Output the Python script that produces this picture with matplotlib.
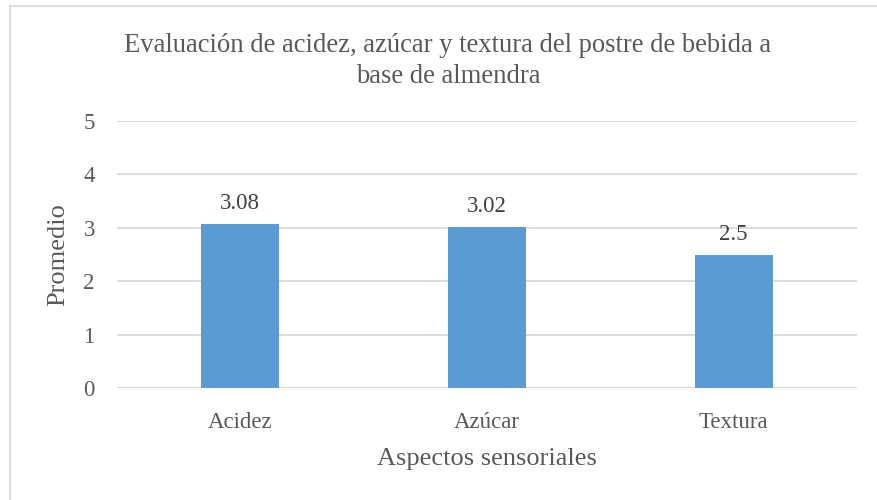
import matplotlib
matplotlib.use('Agg')
from matplotlib import pyplot as plt
from matplotlib.patches import Rectangle

# datos del grafico
aspectos = ['Acidez', 'Azúcar', 'Textura']
promedios = [3.08, 3.02, 2.5]
etiquetas = ['3.08', '3.02', '2.5']

plt.rcParams['font.family'] = ['Liberation Serif', 'DejaVu Serif']
gris = '#595959'

fig = plt.figure(figsize=(8.78, 5), dpi=100)
# borde del area del grafico
fig.patches.append(Rectangle((10 / 878, -0.1), 1.2, 1 - 6 / 500 + 0.1, transform=fig.transFigure,
                             fill=False, edgecolor='#D9D9D9', linewidth=1.2))

ax = fig.add_axes([117 / 878, 1 - 388 / 500, 740 / 878, 267 / 500])
x = range(len(aspectos))
ax.bar(x, promedios, width=0.316, color='#5B9BD5', zorder=3)
for i, v in enumerate(promedios):
    ax.annotate(etiquetas[i], (i, v), xytext=(0, 7), textcoords='offset points',
                ha='center', va='bottom', fontsize=16.5, color='#404040')

ax.set_xlim(-0.5, 2.5)
ax.set_ylim(0, 5)
ax.set_yticks(range(0, 6))
ax.set_xticks(list(x))
ax.set_xticklabels(aspectos)
ax.yaxis.grid(True, color='#D9D9D9', linewidth=1.3, zorder=0)
for s in ['top', 'right', 'left', 'bottom']:
    ax.spines[s].set_visible(False)
ax.tick_params(axis='both', length=0, labelsize=16.5, labelcolor=gris)
ax.tick_params(axis='y', pad=16)
ax.tick_params(axis='x', pad=17)
ax.set_xlabel('Aspectos sensoriales', fontsize=19, color=gris, labelpad=11)
ax.set_ylabel('Promedio', fontsize=19, color=gris, labelpad=10)

fig.text(448 / 878, 1 - 61 / 500,
         'Evaluación de acidez, azúcar y textura del postre de bebida a\nbase de almendra',
         ha='center', va='center', fontsize=19.2, color=gris, linespacing=1.3)

fig.savefig('out.png', dpi=100)
